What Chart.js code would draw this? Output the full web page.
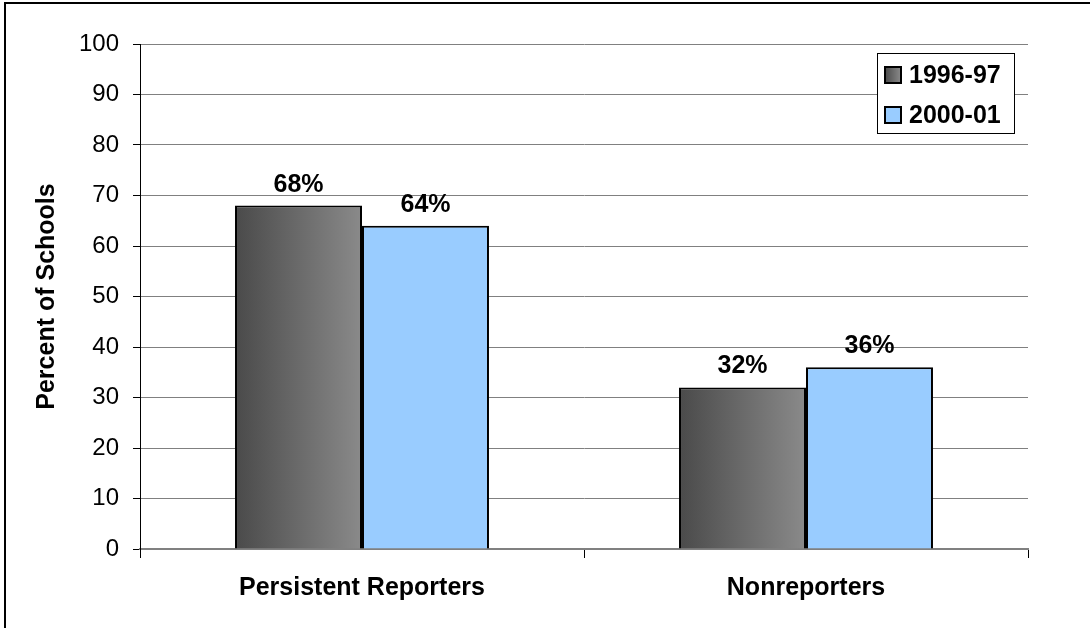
<!DOCTYPE html>
<html>
<head>
    <title>Percent of Schools</title>
    <script src="https://cdn.jsdelivr.net/npm/chart.js"></script>
    <style>
        body { margin: 0; background: #fff; }
    </style>
</head>
<body>
    <canvas id="schoolsChart" width="1090" height="628"></canvas>

    <script>
        // Chart data
        const categories = ['Persistent Reporters', 'Nonreporters'];
        const seriesNames = ['1996-97', '2000-01'];
        const values1996 = [68, 32];
        const values2000 = [64, 36];
        const yTicks = [0, 10, 20, 30, 40, 50, 60, 70, 80, 90, 100];

        const BAR_FRACTION = 0.572;
        const boldFont = 'bold 25px "Liberation Sans", Arial, sans-serif';

        // horizontal grey gradient for the 1996-97 bars
        function darkGradient(ctx, x0, x1) {
            const g = ctx.createLinearGradient(x0, 0, x1, 0);
            g.addColorStop(0, '#4a4a4a');
            g.addColorStop(1, '#8a8a8a');
            return g;
        }

        function darkBarFill(context) {
            const chart = context.chart;
            const xScale = chart.scales.x;
            if (!chart.chartArea || !xScale) return '#666666';
            const center = xScale.getPixelForValue(context.dataIndex);
            const barW = (xScale.width / categories.length) * BAR_FRACTION / 2;
            return darkGradient(chart.ctx, center - barW, center);
        }

        // frame line on top and left edge
        const framePlugin = {
            id: 'frame',
            beforeDraw(chart) {
                const ctx = chart.ctx;
                ctx.save();
                ctx.fillStyle = '#ffffff';
                ctx.fillRect(0, 0, chart.width, chart.height);
                ctx.strokeStyle = '#000000';
                ctx.lineWidth = 2;
                ctx.beginPath();
                ctx.moveTo(5, chart.height);
                ctx.lineTo(5, 3);
                ctx.lineTo(chart.width, 3);
                ctx.stroke();
                ctx.restore();
            }
        };

        // percent labels above bars
        const valueLabels = {
            id: 'valueLabels',
            afterDatasetsDraw(chart) {
                const ctx = chart.ctx;
                ctx.save();
                ctx.font = boldFont;
                ctx.fillStyle = '#000000';
                ctx.textAlign = 'center';
                ctx.textBaseline = 'alphabetic';
                chart.data.datasets.forEach((ds, i) => {
                    chart.getDatasetMeta(i).data.forEach((bar, j) => {
                        ctx.fillText(ds.data[j] + '%', bar.x, bar.y - 14);
                    });
                });
                ctx.restore();
            }
        };

        // boxed legend in the upper right corner
        const boxLegend = {
            id: 'boxLegend',
            afterDraw(chart) {
                const ctx = chart.ctx;
                const bx = 877, by = 53, bw = 137, bh = 80;
                ctx.save();
                ctx.fillStyle = '#ffffff';
                ctx.fillRect(bx, by, bw, bh);
                ctx.strokeStyle = '#000000';
                ctx.lineWidth = 1;
                ctx.strokeRect(bx + 0.5, by + 0.5, bw, bh);
                ctx.font = boldFont;
                ctx.textBaseline = 'middle';
                ctx.textAlign = 'left';
                chart.data.datasets.forEach((ds, i) => {
                    const cy = by + 22 + i * 40;
                    const mx = 885, ms = 16;
                    ctx.fillStyle = i === 0 ? darkGradient(ctx, mx, mx + ms) : ds.backgroundColor;
                    ctx.fillRect(mx, cy - ms / 2, ms, ms);
                    ctx.lineWidth = 2;
                    ctx.strokeStyle = '#000000';
                    ctx.strokeRect(mx, cy - ms / 2, ms, ms);
                    ctx.fillStyle = '#000000';
                    ctx.fillText(ds.label, 909, cy + 1);
                });
                ctx.restore();
            }
        };

        const ctx = document.getElementById('schoolsChart').getContext('2d');
        new Chart(ctx, {
            type: 'bar',
            data: {
                labels: categories,
                datasets: [{
                    label: seriesNames[0],
                    data: values1996,
                    backgroundColor: darkBarFill,
                    borderColor: '#000000',
                    borderWidth: 2,
                    categoryPercentage: BAR_FRACTION,
                    barPercentage: 1
                }, {
                    label: seriesNames[1],
                    data: values2000,
                    backgroundColor: '#99ccff',
                    borderColor: '#000000',
                    borderWidth: 2,
                    categoryPercentage: BAR_FRACTION,
                    barPercentage: 1
                }]
            },
            options: {
                responsive: false,
                animation: false,
                layout: { padding: { left: 0, top: 44, right: 62, bottom: 0 } },
                plugins: {
                    legend: { display: false },
                    tooltip: { enabled: false }
                },
                scales: {
                    x: {
                        afterFit(scale) { scale.height = 79; },
                        grid: {
                            offset: true,
                            drawOnChartArea: false,
                            tickLength: 9,
                            tickColor: '#000000'
                        },
                        border: { color: '#808080', width: 2 },
                        ticks: {
                            padding: 15,
                            color: '#000000',
                            font: { family: '"Liberation Sans", Arial, sans-serif', size: 25, weight: 'bold' }
                        }
                    },
                    y: {
                        min: 0,
                        max: 100,
                        afterFit(scale) { scale.width = 140; },
                        afterBuildTicks(scale) { scale.ticks = yTicks.map(v => ({ value: v })); },
                        grid: {
                            color: '#808080',
                            tickColor: '#000000',
                            tickLength: 7
                        },
                        border: { color: '#000000', width: 1 },
                        ticks: {
                            padding: 14,
                            color: '#000000',
                            font: { family: '"Liberation Sans", Arial, sans-serif', size: 24 }
                        },
                        title: {
                            display: true,
                            text: 'Percent of Schools',
                            color: '#000000',
                            padding: { top: 32, bottom: 0 },
                            font: { family: '"Liberation Sans", Arial, sans-serif', size: 25, weight: 'bold' }
                        }
                    }
                }
            },
            plugins: [framePlugin, valueLabels, boxLegend]
        });
    </script>
</body>
</html>
